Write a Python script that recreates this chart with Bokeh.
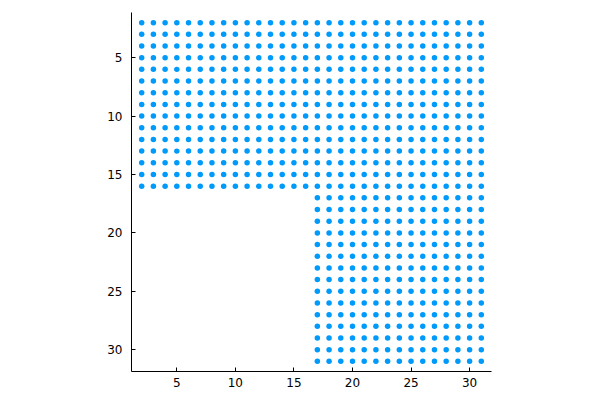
from bokeh.plotting import figure
from bokeh.models import Range1d, ColumnDataSource, FixedTicker
from bokeh.embed import file_html
from bokeh.resources import INLINE

# a grid of points; rows 2-16 span columns 2-31,
# rows 17-31 span only columns 17-31.
cols_full = [2, 3, 4, 5, 6, 7, 8, 9, 10, 11, 12, 13, 14, 15, 16,
             17, 18, 19, 20, 21, 22, 23, 24, 25, 26, 27, 28, 29, 30, 31]
rows_top = [2, 3, 4, 5, 6, 7, 8, 9, 10, 11, 12, 13, 14, 15, 16]
cols_right = [17, 18, 19, 20, 21, 22, 23, 24, 25, 26, 27, 28, 29, 30, 31]
rows_bottom = [17, 18, 19, 20, 21, 22, 23, 24, 25, 26, 27, 28, 29, 30, 31]
tick_values = [5, 10, 15, 20, 25, 30]

xs, ys = [], []
for r in rows_top:
    for c in cols_full:
        xs.append(c); ys.append(r)
for r in rows_bottom:
    for c in cols_right:
        xs.append(c); ys.append(r)

src = ColumnDataSource(dict(x=xs, y=ys))

p = figure(output_backend="svg", toolbar_location=None,
           frame_width=360, frame_height=359,
           min_border_left=131, min_border_top=12,
           min_border_right=101, min_border_bottom=21,
           x_range=Range1d(1.13, 31.87), y_range=Range1d(31.87, 1.13))

p.scatter("x", "y", source=src, size=5.5, fill_color="#009AFA",
          line_color="#009AFA", line_width=0)

p.xgrid.visible = False
p.ygrid.visible = False
p.outline_line_color = None
p.background_fill_color = "white"
p.border_fill_color = "white"

for ax in (p.xaxis[0], p.yaxis[0]):
    ax.ticker = FixedTicker(ticks=tick_values)
    ax.minor_tick_line_color = None
    ax.major_tick_in = 4
    ax.major_tick_out = 0
    ax.axis_line_color = "black"
    ax.major_tick_line_color = "black"
    ax.major_label_text_font = "DejaVu Sans"
    ax.major_label_text_font_size = "12px"
    ax.major_label_text_color = "black"
p.xaxis[0].major_label_standoff = 6
p.yaxis[0].major_label_standoff = 9

out = file_html(p, INLINE)
open("out.html", "w").write(out)
